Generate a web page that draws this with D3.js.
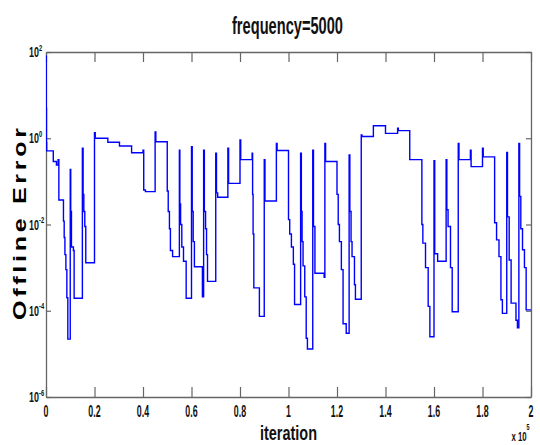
<!DOCTYPE html>
<html><head><meta charset="utf-8">
<script src="https://cdn.jsdelivr.net/npm/d3@7"></script>
<style>body{margin:0;background:#fff} svg{display:block}</style>
</head><body>
<script>
// step-change points of the offline error curve
const iterations = [0,100,200,300,3000,4300,
5000,5300,7200,7500,7800,8200,8600,9000,
10000,10200,10500,11300,11600,
15000,15300,15600,16000,16400,
20000,20300,
25500,
30300,
35300,
40000,40300,41000,
45000,45300,
50000,50400,50900,51300,52200,
55000,55200,55500,56000,56700,57800,
60000,60300,60700,61200,64500,
65000,65300,65800,66200,66600,
70000,70300,70800,
75000,75300,
80000,80300,
85000,85200,85400,85700,88000,
90000,90300,
95000,95300,
100000,100500,101200,102000,102500,
105000,105300,105600,106000,106700,107300,107800,
110000,110300,110900,114700,
115000,115300,
120000,120500,121000,121800,122500,123800,
125000,125300,125800,126200,127200,127600,
130000,130300,
135000,
140000,
145000,145300,
150000,
155000,155400,156500,157600,158300,
160000,160300,161500,
165000,165300,165800,166800,167500,
170000,170300,
175000,175300,
180000,180300,
185000,185800,186800,187600,188200,
190000,190300,191000,191800,193800,194400,
195000,195300,195800,196500,197300,198000,
200000];
const errors = [80,5,0.8,0.51,0.29,0.24,
0.32,0.037,0.012,0.005,0.002,9e-4,2e-4,2.2e-5,
0.19,0.02,0.003,0.0025,1.95e-4,
0.59,0.05,0.02,0.009,0.0013,
1.35,1.0,
0.81,
0.66,
0.46,
0.53,0.063,0.058,
1.4,0.83,
0.06,0.02,0.008,0.0025,0.0018,
0.53,0.03,0.01,0.003,0.0014,1.95e-4,
0.64,0.02,0.004,0.00105,2.1e-4,
0.53,0.02,0.008,0.002,4.8e-4,
0.45,0.054,0.043,
0.59,0.09,
0.91,0.32,
0.45,0.05,0.006,3.4e-4,7.4e-5,
0.32,0.035,
0.76,0.52,
0.013,0.006,0.003,0.0012,1.4e-4,
0.45,0.02,0.004,0.0011,2.1e-4,2.3e-5,1.3e-5,
0.53,0.009,7.4e-4,6e-4,
0.76,0.29,
0.05,0.01,0.004,9e-4,5e-5,3e-5,
0.41,0.02,0.004,0.0018,4e-4,1.85e-4,
1.2,1.1,
1.95,
1.3,
1.7,1.5,
0.32,
0.01,0.0037,0.001,1.26e-4,2.5e-5,
0.30,0.0021,0.0014,
0.32,0.022,0.009,0.001,9.5e-5,
0.76,0.32,
0.53,0.22,
0.59,0.37,
0.011,0.0044,0.0018,1.8e-4,8.7e-5,
0.47,0.015,0.0015,1.5e-4,6e-5,4e-5,
0.76,0.045,0.008,0.0026,0.001,1.05e-4,
1.05e-4];

const xTicks = [0,20000,40000,60000,80000,100000,120000,140000,160000,180000,200000];
const xTickLabels = ["0","0.2","0.4","0.6","0.8","1","1.2","1.4","1.6","1.8","2"];
const yTicks = [1e-6,1e-4,1e-2,1,1e2];
const yTickExponents = ["-6","-4","-2","0","2"];
const titleText = "frequency=5000";
const xLabelText = "iteration";
const yLabelText = "Offline Error";
const xMultiplierExp = "5";

const W = 540, H = 445;
const font = "'Liberation Sans', Arial, sans-serif";
const svg = d3.select("body").append("svg").attr("width", W).attr("height", H);

const x = d3.scaleLinear().domain([0, 200000]).range([46, 531]);
const y = d3.scaleLog().domain([1e-6, 1e2]).range([397, 52]);

const axisColor = "#666";
function styleAxis(g) {
  g.selectAll("path.domain").attr("stroke", axisColor).attr("stroke-width", 1.3);
  g.selectAll(".tick line").attr("stroke", axisColor).attr("stroke-width", 1.2);
}
svg.append("g").attr("transform", "translate(0,397)")
  .call(d3.axisBottom(x).tickValues(xTicks).tickSizeInner(-10).tickSizeOuter(0).tickFormat(""))
  .call(styleAxis);
svg.append("g").attr("transform", "translate(0,52)")
  .call(d3.axisTop(x).tickValues(xTicks).tickSizeInner(-10).tickSizeOuter(0).tickFormat(""))
  .call(styleAxis);
svg.append("g").attr("transform", "translate(46,0)")
  .call(d3.axisLeft(y).tickValues(yTicks).tickSizeInner(-5).tickSizeOuter(0).tickFormat(""))
  .call(styleAxis);
svg.append("g").attr("transform", "translate(531,0)")
  .call(d3.axisRight(y).tickValues(yTicks).tickSizeInner(-5).tickSizeOuter(0).tickFormat(""))
  .call(styleAxis);

// clip & line
svg.append("clipPath").attr("id", "clip").append("rect")
  .attr("x", 46).attr("y", 52).attr("width", 485).attr("height", 345);
const pts = iterations.map((it, i) => [it, errors[i]]);
const line = d3.line().x(d => x(d[0])).y(d => y(d[1])).curve(d3.curveStepAfter);
svg.append("path").datum(pts).attr("d", line)
  .attr("fill", "none").attr("stroke", "#0000ff").attr("stroke-width", 1.4)
  .attr("stroke-linejoin", "miter").attr("clip-path", "url(#clip)");

// x tick labels
svg.append("g").selectAll("text").data(xTicks).join("text")
  .attr("transform", d => `translate(${x(d)},416.5) scale(0.52,1)`)
  .attr("text-anchor", "middle").attr("font-family", font).attr("font-size", 17)
  .attr("font-weight", "bold").attr("fill", "#111")
  .text((d, i) => xTickLabels[i]);

// y tick labels 10^e
const yl = svg.append("g");
yTicks.forEach((v, i) => {
  const ty = y(v);
  yl.append("text").attr("transform", `translate(39,${ty + 5}) scale(0.64,1)`)
    .attr("text-anchor", "end").attr("font-family", font).attr("font-size", 14)
    .attr("font-weight", "bold").attr("fill", "#111").text("10");
  yl.append("text").attr("transform", `translate(39,${ty - 1.5}) scale(0.64,1)`)
    .attr("text-anchor", "start").attr("font-family", font).attr("font-size", 9)
    .attr("font-weight", "bold").attr("fill", "#111").text(yTickExponents[i]);
});

// title
svg.append("text").attr("x", 287.5).attr("y", 33.5).attr("text-anchor", "middle")
  .attr("font-family", font).attr("font-size", 23).attr("font-weight", "bold").attr("fill", "#111")
  .attr("textLength", 111).attr("lengthAdjust", "spacingAndGlyphs").text(titleText);

// x label
svg.append("text").attr("x", 288.5).attr("y", 439.5).attr("text-anchor", "middle")
  .attr("font-family", font).attr("font-size", 21).attr("font-weight", "bold").attr("fill", "#111")
  .attr("textLength", 57).attr("lengthAdjust", "spacingAndGlyphs").text(xLabelText);

// x multiplier
svg.append("text").attr("transform", "translate(511.5,441) scale(0.6,1)")
  .attr("font-family", font).attr("font-size", 13).attr("font-weight", "bold").attr("fill", "#111")
  .text("x 10");
svg.append("text").attr("transform", "translate(526.5,430) scale(0.6,1)")
  .attr("font-family", font).attr("font-size", 9).attr("font-weight", "bold").attr("fill", "#111")
  .text(xMultiplierExp);

// y label
svg.append("text").attr("transform", "translate(25.5,224) rotate(-90) scale(1,0.72)")
  .attr("text-anchor", "middle").attr("font-family", font).attr("font-size", 25)
  .attr("font-weight", "bold").attr("fill", "#000")
  .attr("textLength", 192).attr("lengthAdjust", "spacing").text(yLabelText);
</script>
</body></html>
